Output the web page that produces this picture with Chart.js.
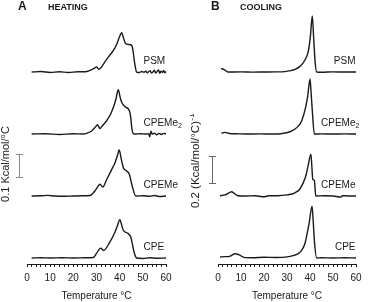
<!DOCTYPE html>
<html>
<head>
<meta charset="utf-8">
<script src="https://cdn.jsdelivr.net/npm/chart.js@4.4.0/dist/chart.umd.min.js"></script>
<style>
html, body { margin: 0; padding: 0; background: #fff; }
#wrap { position: relative; width: 374px; height: 302px; overflow: hidden; }
#heat { position: absolute; left: 0; top: 0; }
#cool { position: absolute; left: 190px; top: 0; }
</style>
</head>
<body>
<div id="wrap">
  <canvas id="heat" width="190" height="302"></canvas>
  <canvas id="cool" width="184" height="302"></canvas>
</div>
<script>
// curves listed top to bottom
const CURVE_NAMES = ["PSM", "CPEMe2", "CPEMe", "CPE"];
const X_TICKS = [0, 10, 20, 30, 40, 50, 60];

// A: heating, excess heat capacity (kcal/mol/°C) vs temperature (°C)
const heatPSM = [[2,0],[6,0.002],[10,-0.002],[14,0.001],[18,-0.002],[22,0.001],[25,0.001],[27,0.006],[29,0.016],[30,0.022],[31,0.012],[32,0.02],[33.7,0.045],[35.5,0.07],[37.3,0.094],[38.7,0.12],[39.8,0.15],[40.9,0.171],[41.6,0.15],[42.6,0.123],[43.7,0.12],[45.2,0.116],[45.8,0.09],[46.3,0.051],[46.8,0.02],[47.3,0],[48.5,-0.002],[49.5,0.002],[50.5,-0.001],[51.2,0.004],[51.8,-0.003],[52.5,0.001],[53.2,0.006],[53.7,-0.005],[54.5,0.002],[55,0.008],[55.5,-0.004],[56.3,0.003],[56.8,0.009],[57.3,-0.006],[57.8,0.004],[58.5,-0.002],[59,0.007],[59.5,-0.003],[60,0.002]];
const heatCPEMe2 = [[2,0],[8,0.001],[14,-0.002],[20,0.001],[24,0],[26,0.004],[28,0.014],[29.5,0.03],[30.4,0.04],[31.5,0.024],[32.5,0.035],[34.4,0.058],[36,0.085],[37.3,0.116],[38.4,0.152],[39.4,0.193],[40.2,0.16],[40.9,0.137],[42.3,0.119],[44.2,0.101],[44.8,0.07],[45.2,0.029],[45.9,0.002],[47,0],[49,0.001],[51,0],[52.5,0.001],[53,-0.012],[53.5,0.012],[54,0],[55,0.004],[56,-0.003],[57,0.003],[58,-0.002],[59,0.003],[60,0]];
const heatCPEMe = [[2,0],[6,0.001],[9,0.003],[12,0],[16,-0.001],[20,0],[24,0.001],[27.2,0.002],[29.3,0.022],[30.5,0.04],[31.5,0.051],[32.7,0.039],[34.4,0.072],[36.6,0.116],[38,0.145],[39,0.175],[39.8,0.2],[40.6,0.165],[41.6,0.123],[43,0.109],[44.2,0.094],[44.9,0.065],[45.6,0.036],[47,0],[50,0.001],[53,-0.001],[55,0.002],[57,-0.002],[60,0]];
const heatCPE = [[2,0],[6,0.001],[10,0],[15,0.001],[20,0],[25,0.001],[28.6,0.002],[30,0.02],[31.8,0.043],[33,0.033],[35.8,0.07],[38,0.113],[39.2,0.145],[40.1,0.168],[40.8,0.145],[41.6,0.12],[43.7,0.106],[44.8,0.091],[45.5,0.06],[46.2,0.026],[47.3,0],[50,-0.002],[53,0.001],[56,-0.001],[60,0]];

// B: cooling
const coolPSM = [[1.3,0.025],[2.5,0.02],[4.3,0],[10,0.001],[15,-0.001],[20,0],[25,0.001],[29,0.003],[31.5,0.01],[33.5,0.02],[35.5,0.04],[37.1,0.069],[38.3,0.105],[39.3,0.156],[40.2,0.27],[41,0.415],[41.6,0.25],[42.2,0.081],[42.9,0],[45,-0.002],[50,0.001],[55,0],[60,0]];
const coolCPEMe2 = [[1.5,0.005],[3,0.012],[5,0.004],[8,0.002],[12,0],[18,0.001],[24,0],[28,0.004],[31,0.015],[33.5,0.037],[35,0.06],[36.4,0.099],[38.1,0.197],[39,0.28],[40,0.407],[40.5,0.3],[41,0.173],[41.9,0],[45,0.001],[50,0],[55,0.001],[60,0]];
const coolCPEMe = [[0.9,0.002],[3,0.008],[5,0.025],[5.9,0.032],[7,0.02],[8.7,0.002],[12,0],[16,0.002],[20,-0.006],[22,0.002],[26,0.002],[30,0.008],[33.5,0.024],[35.5,0.05],[37.1,0.099],[38.2,0.15],[39,0.21],[40.4,0.309],[40.8,0.22],[41.2,0.124],[41.9,0.116],[42.5,0],[46,0.002],[50,0],[53.5,-0.008],[54,0.003],[57,0],[60,0]];
const coolCPE = [[0.9,0.007],[3,0.01],[5,0.012],[7.4,0.032],[9,0.025],[11.7,0.003],[15,0.002],[20,0.006],[25,0.004],[30,0.008],[33,0.02],[34.9,0.032],[36.5,0.06],[37.8,0.107],[39.6,0.255],[40.9,0.383],[41.4,0.27],[41.9,0.131],[42.9,0],[45,0.002],[50,0],[55,0.002],[60,0]];

const FONT = "'Liberation Sans', Arial, sans-serif";
const INK = "#1a1a1a";

function axisId(i) {
   return "y" + i;
}

function drawName(ctx, name, x, y, align) {
   const m = name.match(/^(.*?)(\d+)$/);
   const main = m ? m[1] : name;
   const sub = m ? m[2] : "";
   ctx.font = `10px ${FONT}`;
   const w = ctx.measureText(main).width;
   const left = align === "right" ? x - w : x;
   ctx.textAlign = "left";
   ctx.fillText(main, left, y);
   if (sub) {
      ctx.font = `7px ${FONT}`;
      ctx.fillText(sub, left + w, y + 3);
   }
}

function decorPlugin(p) {
   return {
      id: "decor",
      afterDraw(chart) {
         const ctx = chart.ctx;
         ctx.save();
         ctx.fillStyle = INK;
         ctx.textBaseline = "middle";

         ctx.textAlign = "left";
         ctx.font = `bold 12px ${FONT}`;
         ctx.fillText(p.letter, p.letterX, 7);
         ctx.font = `bold 9px ${FONT}`;
         ctx.fillText(p.mode, p.modeX, 7.5);

         // rotated y title
         ctx.save();
         ctx.translate(6, p.titleY);
         ctx.rotate(-Math.PI / 2);
         ctx.font = `${p.titleSize}px ${FONT}`;
         const tw = ctx.measureText(p.yTitle).width;
         ctx.font = `8px ${FONT}`;
         const sw = p.yTitleSup ? ctx.measureText(p.yTitleSup).width : 0;
         const start = -(tw + sw) / 2;
         ctx.textAlign = "left";
         ctx.font = `${p.titleSize}px ${FONT}`;
         ctx.fillText(p.yTitle, start, 0);
         if (p.yTitleSup) {
            ctx.font = `8px ${FONT}`;
            ctx.fillText(p.yTitleSup, start + tw + 0.5, -4);
         }
         ctx.restore();

         // scale bar on the third trace's axis
         const bs = chart.scales[axisId(2)];
         const yb = Math.round(bs.getPixelForValue(p.barFrom)) + 0.5;
         const yt = Math.round(bs.getPixelForValue(p.barFrom + p.barSize)) + 0.5;
         ctx.strokeStyle = p.barColor;
         ctx.lineWidth = 1;
         ctx.beginPath();
         ctx.moveTo(p.barX + 0.5, yt);
         ctx.lineTo(p.barX + 0.5, yb);
         ctx.moveTo(p.barX - 3, yt);
         ctx.lineTo(p.barX + 4, yt);
         ctx.moveTo(p.barX - 3, yb);
         ctx.lineTo(p.barX + 4, yb);
         ctx.stroke();

         // trace names
         ctx.fillStyle = INK;
         CURVE_NAMES.forEach((name, i) => {
            const s = chart.scales[axisId(i)];
            const y = s.getPixelForValue(0) - 10.5;
            drawName(ctx, name, p.nameX, y, p.nameAlign);
         });
         ctx.restore();
      },
   };
}

function makePanel(canvasId, series, range, pad, p) {
   const yScales = {};
   // last defined axis in a stack is placed on top, so go bottom -> top
   for (let i = CURVE_NAMES.length - 1; i >= 0; i--) {
      yScales[axisId(i)] = {
         type: "linear",
         position: "left",
         stack: "traces",
         stackWeight: 1,
         min: range[0],
         max: range[1],
         display: false,
      };
   }

   return new Chart(document.getElementById(canvasId), {
      type: "line",
      data: {
         datasets: series.map((pts, i) => ({
            label: CURVE_NAMES[i],
            data: pts.map(([x, y]) => ({ x, y })),
            yAxisID: axisId(i),
            borderColor: INK,
            borderWidth: 1.4,
            pointRadius: 0,
            cubicInterpolationMode: "monotone",
            fill: false,
            clip: false,
         })),
      },
      options: {
         responsive: false,
         animation: false,
         devicePixelRatio: 1,
         layout: { padding: { left: pad[0], right: pad[1], top: 16, bottom: 0 } },
         plugins: { legend: { display: false }, tooltip: { enabled: false } },
         scales: {
            x: {
               type: "linear",
               min: 0,
               max: 60,
               afterFit: (s) => { s.height = 38; },
               afterBuildTicks: (s) => {
                  const t = [];
                  for (let v = 0; v <= 60; v += 2) t.push({ value: v });
                  s.ticks = t;
               },
               ticks: {
                  autoSkip: false,
                  maxRotation: 0,
                  padding: 5,
                  color: INK,
                  font: { size: 10, family: FONT },
                  callback: (v) => (X_TICKS.includes(v) ? String(v) : ""),
               },
               grid: { display: true, drawOnChartArea: false, tickLength: 3, color: INK, tickColor: INK },
               border: { display: true, color: INK, width: 1 },
               title: {
                  display: true,
                  text: "Temperature °C",
                  color: INK,
                  padding: { top: 0, bottom: 0 },
                  font: { size: 10, family: FONT },
               },
            },
            ...yScales,
         },
      },
      plugins: [decorPlugin(p)],
   });
}

makePanel("heat", [heatPSM, heatCPEMe2, heatCPEMe, heatCPE], [-0.026, 0.2435], [27, 24], {
   letter: "A", letterX: 18, mode: "HEATING", modeX: 48,
   yTitle: "0.1 Kcal/mol/°C", yTitleSup: "", titleY: 164, titleSize: 11,
   barFrom: 0.083, barSize: 0.1, barX: 19, barColor: "#8c8c8c",
   nameX: 143.5, nameAlign: "left",
});

makePanel("cool", [coolPSM, coolCPEMe2, coolCPEMe, coolCPE], [-0.0444, 0.4148], [28, 18], {
   letter: "B", letterX: 21, mode: "COOLING", modeX: 50,
   yTitle: "0.2 (Kcal/mol/°C)", yTitleSup: "-1", titleY: 161, titleSize: 11.5,
   barFrom: 0.1, barSize: 0.2, barX: 22, barColor: "#666",
   nameX: 165.5, nameAlign: "right",
});
</script>
</body>
</html>
